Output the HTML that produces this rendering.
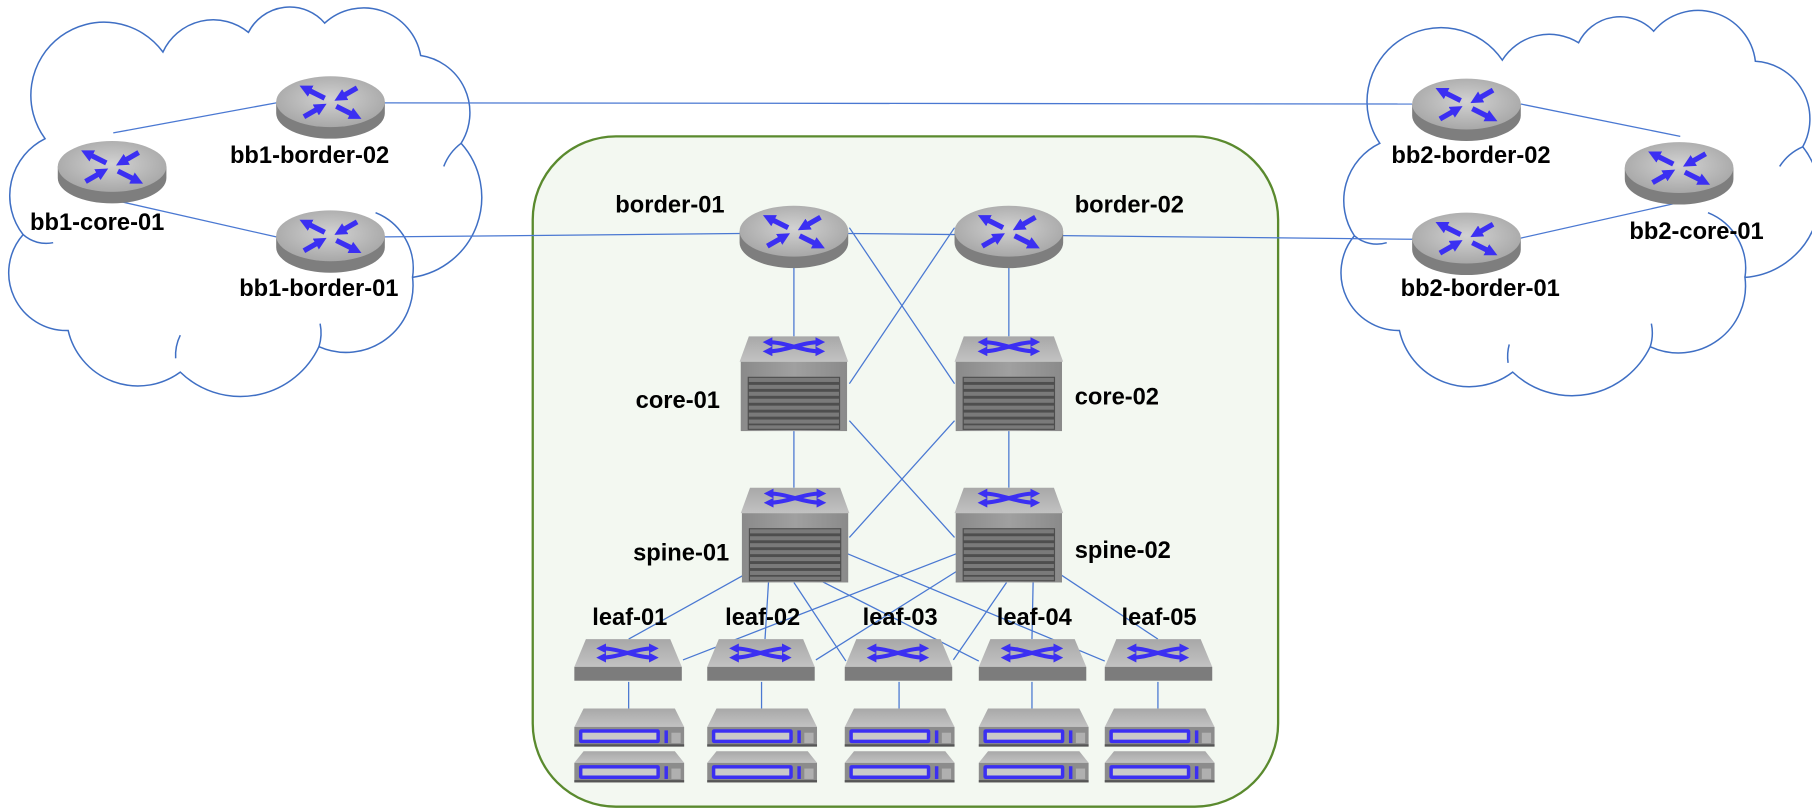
<!DOCTYPE html>
<html><head><meta charset="utf-8"><style>
html,body{margin:0;padding:0;background:#fff;}
svg{display:block;}
text{font-family:"Liberation Sans",Arial,sans-serif;font-weight:bold;font-size:20.5px;fill:#000;}
</style></head><body>
<svg width="1812" height="809" viewBox="0 0 1568 700" preserveAspectRatio="none" xmlns="http://www.w3.org/2000/svg">
<defs>
<marker id="ah" viewBox="0 0 10 10" refX="4" refY="5" markerWidth="2.4" markerHeight="2.4" orient="auto-start-reverse"><path d="M0,0 L10,5 L0,10z" fill="#3b2ff2"/></marker>
<radialGradient id="rt" cx="0.5" cy="0.45" r="0.6"><stop offset="0" stop-color="#d2d2d2"/><stop offset="1" stop-color="#a4a4a4"/></radialGradient>
<linearGradient id="tf" x1="0" y1="0" x2="0" y2="1"><stop offset="0" stop-color="#a8a8a8"/><stop offset="1" stop-color="#c2c2c2"/></linearGradient>
<linearGradient id="bd" x1="0" y1="0" x2="1" y2="0"><stop offset="0" stop-color="#8a8a8a"/><stop offset="0.5" stop-color="#a0a0a0"/><stop offset="1" stop-color="#8a8a8a"/></linearGradient>
<g id="router">
<path d="M-47,-3 L-47,7 A47,22 0 0 0 47,7 L47,-3 Z" fill="#7e7e7e"/>
<ellipse cx="0" cy="-3" rx="47" ry="22" fill="url(#rt)"/>
<g stroke="#3b2ff2" stroke-width="4.5" marker-end="url(#ah)">
<line x1="-5" y1="-6" x2="-21" y2="-14"/>
<line x1="23" y1="-15" x2="9" y2="-7"/>
<line x1="-23" y1="10" x2="-9" y2="2"/>
<line x1="5" y1="1" x2="21" y2="9"/>
</g>
</g>
<g id="xarr" fill="none" stroke="#3b2ff2" stroke-width="3.5" marker-start="url(#ah)" marker-end="url(#ah)">
<path d="M-22,-4 C-8,-4 8,4 22,4"/>
<path d="M-22,4 C-8,4 8,-4 22,-4"/>
</g>
<g id="chassis">
<path d="M8,0 L86,0 L94,22 L0,22 Z" fill="url(#tf)"/>
<rect x="1" y="22" width="92" height="60" fill="url(#bd)"/>
<rect x="7" y="35" width="80" height="46" fill="#4e4e4e"/>
<g fill="#7a7a7a">
<rect x="8" y="36" width="78" height="3.5"/><rect x="8" y="42" width="78" height="3.5"/><rect x="8" y="48" width="78" height="3.5"/><rect x="8" y="54" width="78" height="3.5"/><rect x="8" y="60" width="78" height="3.5"/><rect x="8" y="66" width="78" height="3.5"/><rect x="8" y="72" width="78" height="3.5"/><rect x="8" y="77" width="78" height="3"/>
</g>
<use href="#xarr" x="47" y="9"/>
</g>
<g id="leaf">
<path d="M10,0 L83,0 L93,24 L0,24 Z" fill="url(#tf)"/>
<rect x="0" y="24" width="93" height="12" fill="#7c7c7c"/>
<use href="#xarr" x="46" y="12"/>
</g>
<g id="srv1">
<path d="M8,0 L87,0 L95,16 L0,16 Z" fill="url(#tf)"/>
<rect x="0" y="16" width="95" height="17" fill="#8c8c8c"/>
<rect x="4" y="18" width="70" height="12" rx="2" fill="#3b2ff2"/>
<rect x="7" y="21" width="64" height="6" fill="#c9c9c9"/>
<rect x="0" y="31" width="95" height="2" fill="#555"/>
<rect x="78" y="19" width="3" height="11" fill="#3b2ff2"/>
<rect x="84" y="21" width="8" height="9" fill="#b0b0b0"/>
</g>
<g id="server">
<use href="#srv1"/>
<g transform="translate(0,37)">
<path d="M8,0 L87,0 L95,10 L0,10 Z" fill="url(#tf)"/>
<rect x="0" y="10" width="95" height="17" fill="#8c8c8c"/>
<rect x="4" y="12" width="70" height="12" rx="2" fill="#3b2ff2"/>
<rect x="7" y="15" width="64" height="6" fill="#c9c9c9"/>
<rect x="0" y="25" width="95" height="2" fill="#555"/>
<rect x="78" y="13" width="3" height="11" fill="#3b2ff2"/>
<rect x="84" y="15" width="8" height="9" fill="#b0b0b0"/>
</g>
</g>
</defs>

<!-- clouds -->
<g fill="#fff" stroke="#3f6fc4" stroke-width="1.3">
<path d="M39,120 A62,62 0 0 1 141,45 A48,48 0 0 1 215,28 A40,40 0 0 1 281,20 A50,50 0 0 1 364,48 A50,50 0 0 1 399,124 A70,70 0 0 1 357,240 A58,58 0 0 1 276,300 A75,75 0 0 1 156,322 A62,62 0 0 1 59,286 A50,50 0 0 1 20,203 A55,55 0 0 1 39,120 Z"/>
<path d="M1194,124 A62,62 0 0 1 1300,52 A48,48 0 0 1 1366,37 A40,40 0 0 1 1431,27 A50,50 0 0 1 1519,53 A50,50 0 0 1 1560,127 A70,70 0 0 1 1510,240 A58,58 0 0 1 1428,300 A75,75 0 0 1 1309,322 A62,62 0 0 1 1211,286 A50,50 0 0 1 1172,204 A55,55 0 0 1 1194,124 Z"/>
</g>
<g fill="none" stroke="#3f6fc4" stroke-width="1.3">
<path d="M325,184 A52,52 0 0 1 357,240"/>
<path d="M384,144 A45,45 0 0 1 399,124"/>
<path d="M46,210 A30,30 0 0 1 20,203"/>
<path d="M152,310 A40,40 0 0 1 156,290"/>
<path d="M276,300 A40,40 0 0 0 277,280"/>
<path d="M1478,184 A52,52 0 0 1 1510,240"/>
<path d="M1540,144 A45,45 0 0 1 1560,127"/>
<path d="M1200,210 A30,30 0 0 1 1172,204"/>
<path d="M1305,314 A40,40 0 0 1 1306,298"/>
<path d="M1428,300 A40,40 0 0 0 1429,280"/>
</g>

<!-- container -->
<rect x="461" y="118" width="645" height="580" rx="72" ry="72" fill="#f3f8f1" stroke="#5a8a2e" stroke-width="2"/>

<!-- links -->
<g stroke="#4a78d2" stroke-width="1.1" fill="none">
<line x1="98" y1="115" x2="239" y2="89"/>
<line x1="98" y1="173" x2="239" y2="205"/>
<line x1="333" y1="89" x2="1222" y2="90"/>
<line x1="333" y1="205" x2="640" y2="202"/>
<line x1="734" y1="202" x2="1222" y2="207"/>
<line x1="1316" y1="90" x2="1454" y2="118"/>
<line x1="1316" y1="206" x2="1454" y2="175"/>
<line x1="687" y1="227" x2="687" y2="291"/>
<line x1="873" y1="227" x2="873" y2="291"/>
<line x1="735" y1="197" x2="826" y2="332"/>
<line x1="826" y1="197" x2="735" y2="332"/>
<line x1="687" y1="373" x2="687" y2="422"/>
<line x1="873" y1="373" x2="873" y2="422"/>
<line x1="735" y1="364" x2="826" y2="465"/>
<line x1="826" y1="364" x2="735" y2="465"/>
<line x1="650" y1="494" x2="544" y2="553"/>
<line x1="665" y1="504" x2="662" y2="553"/>
<line x1="687" y1="504" x2="732" y2="572"/>
<line x1="711" y1="503" x2="847" y2="572"/>
<line x1="733" y1="479" x2="956" y2="572"/>
<line x1="828" y1="479" x2="591" y2="571"/>
<line x1="830" y1="493" x2="706" y2="571"/>
<line x1="871" y1="504" x2="825" y2="571"/>
<line x1="894" y1="504" x2="893" y2="553"/>
<line x1="913" y1="494" x2="1002" y2="553"/>
<line x1="544" y1="590" x2="544" y2="613"/>
<line x1="659" y1="590" x2="659" y2="613"/>
<line x1="778" y1="590" x2="778" y2="613"/>
<line x1="893" y1="590" x2="893" y2="613"/>
<line x1="1002" y1="590" x2="1002" y2="613"/>
</g>

<!-- routers -->
<use href="#router" x="97" y="147"/>
<use href="#router" x="286" y="91"/>
<use href="#router" x="286" y="207"/>
<use href="#router" x="687" y="203"/>
<use href="#router" x="873" y="203"/>
<use href="#router" x="1269" y="93"/>
<use href="#router" x="1269" y="209"/>
<use href="#router" x="1453" y="148"/>

<!-- chassis -->
<use href="#chassis" x="640" y="291"/>
<use href="#chassis" x="826" y="291"/>
<use href="#chassis" x="641" y="422"/>
<use href="#chassis" x="826" y="422"/>

<!-- leaves -->
<use href="#leaf" x="497" y="553"/>
<use href="#leaf" x="612" y="553"/>
<use href="#leaf" x="731" y="553"/>
<use href="#leaf" x="847" y="553"/>
<use href="#leaf" x="956" y="553"/>

<!-- servers -->
<use href="#server" x="497" y="613"/>
<use href="#server" x="612" y="613"/>
<use href="#server" x="731" y="613"/>
<use href="#server" x="847" y="613"/>
<use href="#server" x="956" y="613"/>

<!-- labels -->
<text x="26" y="199">bb1-core-01</text>
<text x="199" y="141">bb1-border-02</text>
<text x="207" y="256">bb1-border-01</text>
<text x="627" y="184" text-anchor="end">border-01</text>
<text x="930" y="184">border-02</text>
<text x="1204" y="141">bb2-border-02</text>
<text x="1410" y="207">bb2-core-01</text>
<text x="1212" y="256">bb2-border-01</text>
<text x="623" y="353" text-anchor="end">core-01</text>
<text x="930" y="350">core-02</text>
<text x="631" y="485" text-anchor="end">spine-01</text>
<text x="930" y="483">spine-02</text>
<text x="545" y="541" text-anchor="middle">leaf-01</text>
<text x="660" y="541" text-anchor="middle">leaf-02</text>
<text x="779" y="541" text-anchor="middle">leaf-03</text>
<text x="895" y="541" text-anchor="middle">leaf-04</text>
<text x="1003" y="541" text-anchor="middle">leaf-05</text>
</svg>
</body></html>
